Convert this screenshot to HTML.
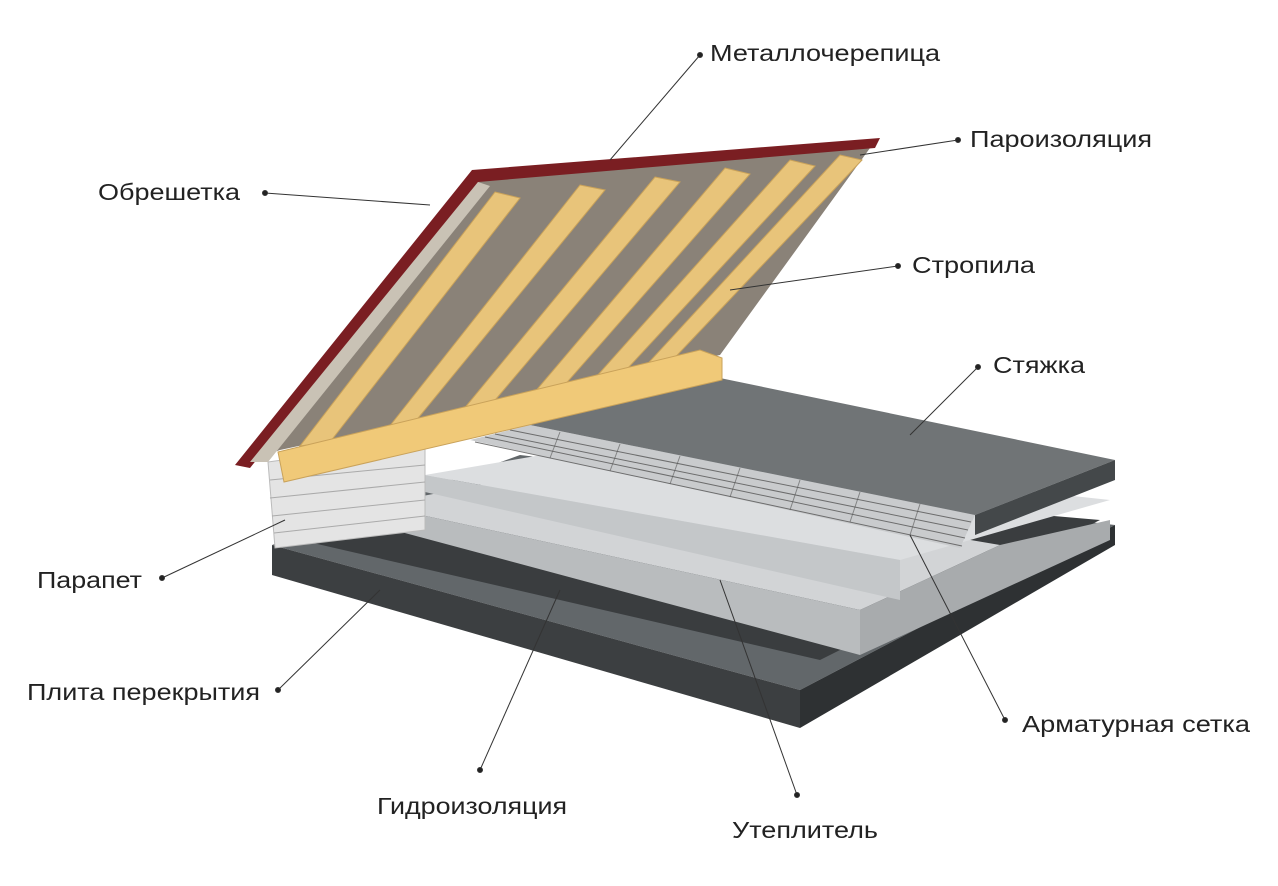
<!DOCTYPE html>
<html><head><meta charset="utf-8"><style>
html,body{margin:0;padding:0;background:#fff;}
svg{display:block}
text{font-family:"Liberation Sans",sans-serif;font-size:23px;fill:#222;}
</style></head><body>
<svg width="1278" height="886" viewBox="0 0 1278 886" xmlns="http://www.w3.org/2000/svg">
<polygon points="272,545 520,455 1115,525 800,690" fill="#62676a"/>
<polygon points="272,545 800,690 800,728 272,575" fill="#3c3f41"/>
<polygon points="800,690 1115,525 1115,545 800,728" fill="#2e3133"/>
<polygon points="300,540 520,470 1100,520 820,660" fill="#3a3d3f"/>
<polygon points="375,505 560,470 1000,545 860,610" fill="#d2d4d6"/>
<polygon points="375,505 860,610 860,655 375,525" fill="#b9bcbe"/>
<polygon points="860,610 1000,545 1110,520 1110,540 860,655" fill="#a8abad"/>
<polygon points="425,475 600,445 1110,500 900,560" fill="#dcdee0"/>
<polygon points="425,475 900,560 900,600 425,492" fill="#c4c7c9"/>
<polygon points="470,440 530,425 975,515 960,548" fill="#c9cbcd"/>
<g stroke="#555" stroke-width="1" opacity="0.8">
<line x1="475" y1="442" x2="962" y2="546"/><line x1="485" y1="437" x2="965" y2="538"/>
<line x1="495" y1="434" x2="968" y2="530"/><line x1="510" y1="430" x2="971" y2="522"/>
</g>
<g stroke="#555" stroke-width="1" opacity="0.6">
<line x1="560" y1="432" x2="550" y2="458"/><line x1="620" y1="444" x2="610" y2="471"/>
<line x1="680" y1="456" x2="670" y2="484"/><line x1="740" y1="468" x2="730" y2="497"/>
<line x1="800" y1="480" x2="790" y2="510"/><line x1="860" y1="492" x2="850" y2="522"/>
<line x1="920" y1="504" x2="910" y2="535"/>
</g>
<polygon points="530,425 720,378 1115,460 975,515" fill="#707476"/>
<polygon points="975,515 1115,460 1115,480 975,535" fill="#44484a"/>
<polygon points="268,462 425,440 425,530 275,548" fill="#e4e4e4" stroke="#bbb"/>
<g stroke="#aaa" stroke-width="1">
<line x1="270" y1="480" x2="425" y2="465"/><line x1="270" y1="498" x2="425" y2="482"/>
<line x1="272" y1="516" x2="425" y2="500"/><line x1="274" y1="533" x2="425" y2="516"/>
</g>
<polygon points="245,462 472,175 870,148 720,355 280,450" fill="#8a8278"/>
<polygon points="235,465 472,170 880,138 875,148 478,182 250,468" fill="#7a1e22"/>
<polygon points="250,462 478,182 490,186 268,462" fill="#c9c2b5"/>
<g fill="#e8c47a" stroke="#c9a25a" stroke-width="1">
<polygon points="495,192 520,198 330,442 300,446"/>
<polygon points="580,185 605,190 410,428 385,432"/>
<polygon points="655,177 680,182 485,412 458,416"/>
<polygon points="725,168 750,174 555,396 528,400"/>
<polygon points="790,160 815,166 615,382 588,386"/>
<polygon points="840,155 862,160 665,368 640,372"/>
</g>
<polygon points="278,452 700,350 722,358 722,380 284,482" fill="#f0c978" stroke="#c9a25a"/>
<g stroke="#333" stroke-width="1" fill="#222">
<line x1="700" y1="55" x2="610" y2="160"/><circle cx="700" cy="55" r="2.5"/>
<line x1="958" y1="140" x2="860" y2="155"/><circle cx="958" cy="140" r="2.5"/>
<line x1="265" y1="193" x2="430" y2="205"/><circle cx="265" cy="193" r="2.5"/>
<line x1="898" y1="266" x2="730" y2="290"/><circle cx="898" cy="266" r="2.5"/>
<line x1="978" y1="367" x2="910" y2="435"/><circle cx="978" cy="367" r="2.5"/>
<line x1="162" y1="578" x2="285" y2="520"/><circle cx="162" cy="578" r="2.5"/>
<line x1="278" y1="690" x2="380" y2="590"/><circle cx="278" cy="690" r="2.5"/>
<line x1="480" y1="770" x2="560" y2="590"/><circle cx="480" cy="770" r="2.5"/>
<line x1="797" y1="795" x2="720" y2="580"/><circle cx="797" cy="795" r="2.5"/>
<line x1="1005" y1="720" x2="910" y2="535"/><circle cx="1005" cy="720" r="2.5"/>
</g>
<text x="710" y="61" textLength="230" lengthAdjust="spacingAndGlyphs">Металлочерепица</text>
<text x="970" y="147" textLength="182" lengthAdjust="spacingAndGlyphs">Пароизоляция</text>
<text x="98" y="200" textLength="142" lengthAdjust="spacingAndGlyphs">Обрешетка</text>
<text x="912" y="273" textLength="123" lengthAdjust="spacingAndGlyphs">Стропила</text>
<text x="993" y="373" textLength="92" lengthAdjust="spacingAndGlyphs">Стяжка</text>
<text x="37" y="588" textLength="105" lengthAdjust="spacingAndGlyphs">Парапет</text>
<text x="27" y="700" textLength="233" lengthAdjust="spacingAndGlyphs">Плита перекрытия</text>
<text x="377" y="814" textLength="190" lengthAdjust="spacingAndGlyphs">Гидроизоляция</text>
<text x="732" y="838" textLength="146" lengthAdjust="spacingAndGlyphs">Утеплитель</text>
<text x="1022" y="732" textLength="228" lengthAdjust="spacingAndGlyphs">Арматурная сетка</text>
</svg>
</body></html>
